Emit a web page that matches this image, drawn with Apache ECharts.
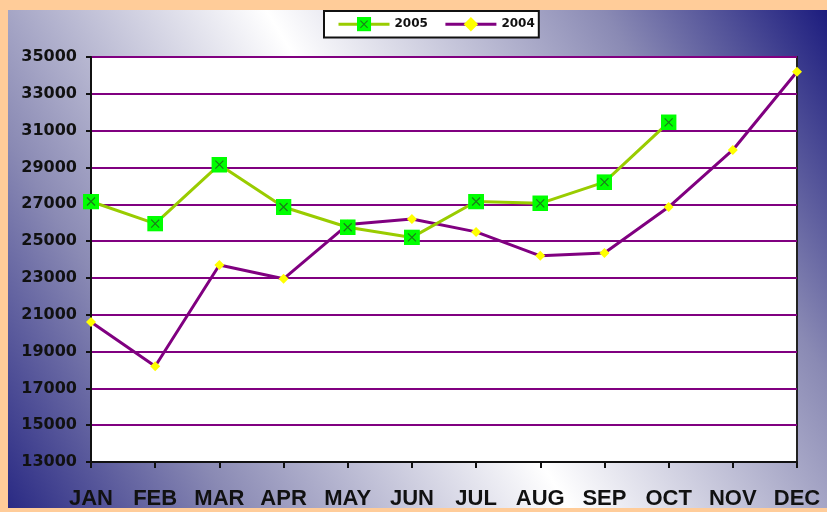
<!DOCTYPE html>
<html>
<head>
<meta charset="utf-8">
<script src="https://cdn.jsdelivr.net/npm/echarts@6/dist/echarts.min.js"></script>
<style>
  html, body { margin: 0; padding: 0; }
  #main { width: 827px; height: 512px; }
</style>
</head>
<body>
<div id="main"></div>
<script>
// data
var months = ['JAN', 'FEB', 'MAR', 'APR', 'MAY', 'JUN', 'JUL', 'AUG', 'SEP', 'OCT', 'NOV', 'DEC'];
var sales2005 = [27150, 25950, 29150, 26850, 25750, 25200, 27150, 27050, 28200, 31450];
var sales2004 = [20600, 18200, 23700, 22950, 25900, 26200, 25500, 24200, 24350, 26850, 29950, 34200];
var seriesNames = ['2005', '2004'];
var yMin = 13000, yMax = 35000, yStep = 2000;

// green square with an X, used for 2005
var boxX = 'image://data:image/svg+xml;charset=utf-8,' + encodeURIComponent(
  '<svg xmlns="http://www.w3.org/2000/svg" width="16" height="16" viewBox="0 0 16 16">' +
  '<rect x="0" y="0" width="16" height="16" fill="#00FF00"/>' +
  '<path d="M4 4 L12 12 M12 4 L4 12" stroke="#1B7A1B" stroke-width="1.2"/>' +
  '</svg>');

var chart = echarts.init(document.getElementById('main'));
chart.setOption({
  animation: false,
  backgroundColor: '#FFCC99',
  graphic: [{
    type: 'rect',
    z: -10,
    shape: { x: 8, y: 10, width: 819, height: 498 },
    style: {
      fill: {
        type: 'linear', x: 1, y: 0, x2: 0, y2: 1,
        colorStops: [
          { offset: 0, color: '#1C1C7E' },
          { offset: 0.2, color: '#8A8AB4' },
          { offset: 0.5, color: '#FFFFFF' },
          { offset: 0.8, color: '#8A8AB4' },
          { offset: 1, color: '#2A2A84' }
        ]
      }
    }
  }],
  legend: {
    left: 324,
    top: 11,
    padding: [6, 4, 6, 13],
    itemWidth: 51,
    itemHeight: 18,
    itemGap: 16,
    backgroundColor: '#fff',
    borderColor: '#111',
    borderWidth: 2,
    lineStyle: { width: 3 },
    textStyle: { color: '#111', fontFamily: 'DejaVu Sans', fontWeight: 'bold', fontSize: 12 },
    data: seriesNames
  },
  grid: {
    left: 91, right: 30, top: 57, bottom: 50,
    show: true,
    backgroundColor: '#fff',
    borderColor: '#222',
    borderWidth: 2
  },
  xAxis: {
    type: 'category',
    data: months,
    boundaryGap: false,
    axisLine: { lineStyle: { color: '#111', width: 2 } },
    axisTick: { length: 6, interval: 0, lineStyle: { color: '#111', width: 2 } },
    axisLabel: {
      interval: 0,
      color: '#111',
      margin: 26,
      fontSize: 22,
      fontWeight: 'bold',
      fontFamily: "'Liberation Sans', Arial"
    }
  },
  yAxis: {
    type: 'value',
    min: yMin, max: yMax, interval: yStep,
    axisLine: { show: true, lineStyle: { color: '#111', width: 2 } },
    axisTick: { show: true, length: 5, lineStyle: { color: '#111', width: 2 } },
    splitLine: { lineStyle: { color: '#800080', width: 2 } },
    axisLabel: {
      color: '#111',
      margin: 14,
      fontSize: 16,
      fontWeight: 'bold',
      fontFamily: 'DejaVu Sans',
      formatter: function (v) { return String(v); }
    }
  },
  series: [
    {
      name: seriesNames[0],
      type: 'line',
      data: sales2005,
      symbol: boxX,
      symbolSize: 16,
      z: 3,
      itemStyle: { color: '#99CC00' },
      lineStyle: { color: '#99CC00', width: 3 }
    },
    {
      name: seriesNames[1],
      type: 'line',
      data: sales2004,
      symbol: 'diamond',
      symbolSize: 10,
      z: 2,
      itemStyle: { color: '#FFFF00' },
      lineStyle: { color: '#800080', width: 3 }
    }
  ]
});
</script>
</body>
</html>
